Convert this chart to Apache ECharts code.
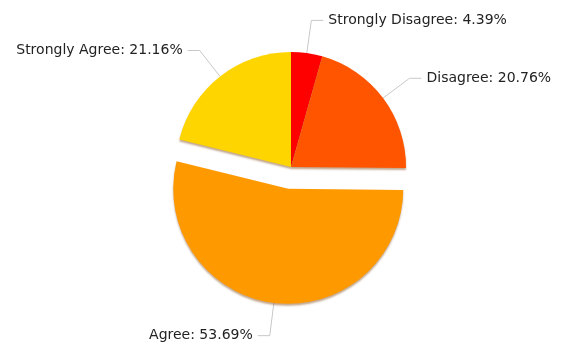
<!DOCTYPE html>
<html>
<head>
<meta charset="utf-8">
<script src="https://cdn.jsdelivr.net/npm/echarts@6/dist/echarts.min.js"></script>
<style>html,body{margin:0;padding:0;background:#fff;}#c{width:568px;height:352px;}</style>
</head>
<body>
<div id="c"></div>
<script>
const categories = ["Strongly Disagree", "Disagree", "Agree", "Strongly Agree"];
const values = [4.39, 20.76, 53.69, 21.16];
const colors = ["#FF0000", "#FF5500", "#FF9900", "#FFD500"];
const explodedCategory = "Agree";

const chart = echarts.init(document.getElementById('c'), null, {renderer: 'canvas'});
chart.setOption({
  animation: false,
  series: [{
    type: 'pie',
    center: [291, 167],
    radius: 115,
    startAngle: 90,
    clockwise: true,
    selectedMode: 'single',
    selectedOffset: 22,
    avoidLabelOverlap: false,
    data: categories.map((c, i) => ({
      name: c,
      value: values[i],
      selected: c === explodedCategory,
      itemStyle: {color: colors[i]}
    })),
    itemStyle: {
      shadowColor: 'rgba(120,60,0,0.45)',
      shadowBlur: 2,
      shadowOffsetY: 2
    },
    label: {
      formatter: p => p.name + ': ' + p.value.toFixed(2) + '%',
      fontFamily: 'DejaVu Sans',
      fontSize: 14,
      color: '#222'
    },
    labelLine: {
      length: 33,
      length2: 12,
      lineStyle: {color: '#c8c8c8', width: 1}
    },
    emphasis: {disabled: true}
  }]
});
</script>
</body>
</html>
